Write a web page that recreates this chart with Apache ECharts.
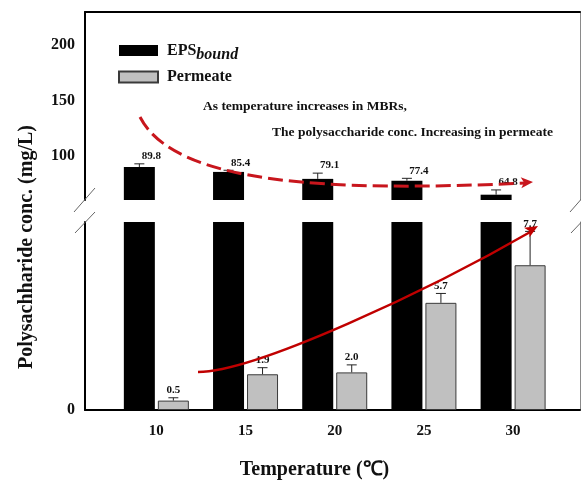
<!DOCTYPE html>
<html>
<head>
<meta charset="utf-8">
<script src="https://cdn.jsdelivr.net/npm/echarts@6/dist/echarts.min.js"></script>
<style>html,body{margin:0;padding:0;background:#fff;}#c{width:581px;height:480px;}</style>
</head>
<body>
<div id="c"></div>
<script>
// ---- data ----
const temps = [10, 15, 20, 25, 30];
const epsBound = [89.8, 85.4, 79.1, 77.4, 64.8];
const epsErr = [2.9, 1.5, 5.2, 2.2, 4.3];
const permeate = [0.5, 1.9, 2.0, 5.7, 7.7];
const permErr = [0.15, 0.35, 0.4, 0.5, 1.8];
const topTicks = [100, 150, 200];
const bottomTicks = [0];
const xTicks = [10, 15, 20, 25, 30];

// ---- styles ----
const FONT = 'Liberation Serif';
const BAR_W = 31, BAR_GAP = 3;
const HALF = (BAR_W + BAR_GAP) / 2;

const chart = echarts.init(document.getElementById('c'), null, {renderer: 'canvas'});

function pairs(vals) { return temps.map((t, i) => [t, vals[i]]); }
function triples(vals, errs) { return temps.map((t, i) => [t, vals[i], errs[i]]); }

function errRenderer(side, dx) {
  return function (params, api) {
    const x = api.value(0), v = api.value(1), e = api.value(2);
    const b = api.coord([x, v]);
    const t = api.coord([x, v + e]);
    const cx = b[0] + side * HALF;
    const st = {stroke: '#222', lineWidth: 1};
    return {
      type: 'group',
      children: [
        {type: 'line', shape: {x1: cx, y1: b[1], x2: cx, y2: t[1]}, style: st},
        {type: 'line', shape: {x1: cx - 5, y1: t[1], x2: cx + 5, y2: t[1]}, style: st},
        {type: 'text', x: cx + dx, y: t[1] - 2,
          style: {text: v.toFixed(1), align: 'center', verticalAlign: 'bottom',
            textAlign: 'center', textVerticalAlign: 'bottom',
            font: 'bold 11px "' + FONT + '"', fill: '#111'}}
      ]
    };
  };
}

const blackStyle = {color: '#000'};
const grayStyle = {color: '#c0c0c0', borderColor: '#3a3a3a', borderWidth: 1};

const xBase = {
  type: 'value', min: 6, max: 33.75, interval: 1,
  splitLine: {show: false}, axisTick: {show: false}
};

function arrowHead(tx, ty, ang, L, W, N, color) {
  const dx = Math.cos(ang), dy = Math.sin(ang);
  const px = -dy, py = dx;
  return {
    type: 'polygon', z: 101,
    shape: {points: [
      [tx, ty],
      [tx - L * dx + W * px, ty - L * dy + W * py],
      [tx - (L - N) * dx, ty - (L - N) * dy],
      [tx - L * dx - W * px, ty - L * dy - W * py]
    ]},
    style: {fill: color}
  };
}

const breakStyle = {stroke: '#666', lineWidth: 1};

chart.setOption({
  animation: false,
  grid: [
    {left: 85, right: 1, top: 12, height: 188, containLabel: false, outerBoundsMode: 'none'},
    {left: 85, right: 1, top: 222, height: 188, containLabel: false, outerBoundsMode: 'none'}
  ],
  xAxis: [
    Object.assign({}, xBase, {gridIndex: 0, position: 'top',
      axisLine: {show: true, onZero: false, lineStyle: {color: '#000', width: 2}},
      axisLabel: {show: false}}),
    Object.assign({}, xBase, {gridIndex: 1, position: 'bottom',
      axisLine: {show: true, onZero: false, lineStyle: {color: '#000', width: 2}},
      axisLabel: {show: true, margin: 14, fontFamily: FONT, fontWeight: 'bold', fontSize: 15, color: '#111',
        formatter: v => xTicks.includes(v) ? String(v) : ''},
      name: 'Temperature (℃)', nameLocation: 'middle', nameGap: 50,
      nameTextStyle: {fontFamily: FONT, fontWeight: 'bold', fontSize: 20, color: '#111', padding: [0, 36, 0, 0]}})
  ],
  yAxis: [
    {type: 'value', gridIndex: 0, position: 'left', min: 60, max: 230, interval: 10,
      splitLine: {show: false}, axisTick: {show: false},
      axisLine: {show: true, onZero: false, lineStyle: {color: '#000', width: 2}},
      axisLabel: {margin: 10, fontFamily: FONT, fontWeight: 'bold', fontSize: 16, color: '#111',
        formatter: v => topTicks.includes(v) ? String(v) : ''}},
    {type: 'value', gridIndex: 0, position: 'right', min: 60, max: 230,
      splitLine: {show: false}, axisTick: {show: false}, axisLabel: {show: false},
      axisLine: {show: true, onZero: false, lineStyle: {color: '#8a8a8a', width: 1}}},
    {type: 'value', gridIndex: 1, position: 'left', min: 0, max: 10, interval: 1,
      splitLine: {show: false}, axisTick: {show: false},
      axisLine: {show: true, onZero: false, lineStyle: {color: '#000', width: 2}},
      axisLabel: {margin: 10, fontFamily: FONT, fontWeight: 'bold', fontSize: 16, color: '#111',
        formatter: v => bottomTicks.includes(v) ? String(v) : ''}},
    {type: 'value', gridIndex: 1, position: 'right', min: 0, max: 10,
      splitLine: {show: false}, axisTick: {show: false}, axisLabel: {show: false},
      axisLine: {show: true, onZero: false, lineStyle: {color: '#8a8a8a', width: 1}}}
  ],
  legend: {
    orient: 'vertical', left: 113, top: 33, itemWidth: 39, itemHeight: 11, itemGap: 6,
    icon: 'rect',
    data: ['EPSbound', 'Permeate'],
    formatter: n => n === 'EPSbound' ? '{a|EPS}{b|bound}' : '{a|Permeate}',
    textStyle: {
      padding: [0, 0, 0, 4],
      rich: {
        a: {fontFamily: FONT, fontWeight: 'bold', fontSize: 16, color: '#111', lineHeight: 20, verticalAlign: 'middle'},
        b: {fontFamily: FONT, fontWeight: 'bold', fontStyle: 'italic', fontSize: 16, color: '#111', lineHeight: 20,
          padding: [9, 0, 0, 0], verticalAlign: 'middle'}
      }
    }
  },
  series: [
    {type: 'bar', name: 'EPSbound', xAxisIndex: 0, yAxisIndex: 0, data: pairs(epsBound),
      barWidth: BAR_W, barGap: (BAR_GAP / BAR_W * 100) + '%', itemStyle: blackStyle, clip: true},
    {type: 'bar', name: 'Permeate', xAxisIndex: 0, yAxisIndex: 0, data: pairs(permeate),
      barWidth: BAR_W, barGap: (BAR_GAP / BAR_W * 100) + '%', itemStyle: grayStyle, clip: true},
    {type: 'bar', name: 'EPSbound', xAxisIndex: 1, yAxisIndex: 2, data: pairs(epsBound),
      barWidth: BAR_W, barGap: (BAR_GAP / BAR_W * 100) + '%', itemStyle: blackStyle, clip: true},
    {type: 'bar', name: 'Permeate', xAxisIndex: 1, yAxisIndex: 2, data: pairs(permeate),
      barWidth: BAR_W, barGap: (BAR_GAP / BAR_W * 100) + '%', itemStyle: grayStyle, clip: true},
    {type: 'custom', xAxisIndex: 0, yAxisIndex: 0, data: triples(epsBound, epsErr),
      renderItem: errRenderer(-1, 12), z: 5},
    {type: 'custom', xAxisIndex: 1, yAxisIndex: 2, data: triples(permeate, permErr),
      renderItem: errRenderer(1, 0), z: 5}
  ],
  graphic: [
    {type: 'text', x: 27, y: 247, rotation: Math.PI / 2, z: 100,
      style: {text: 'Polysachharide conc. (mg/L)', font: 'bold 20px "' + FONT + '"', fill: '#111',
        align: 'center', verticalAlign: 'middle', textAlign: 'center', textVerticalAlign: 'middle'}},
    {type: 'text', x: 203, y: 107, z: 100,
      style: {text: 'As temperature increases in MBRs,', font: 'bold 13.5px "' + FONT + '"', fill: '#111',
        align: 'left', verticalAlign: 'middle', textAlign: 'left', textVerticalAlign: 'middle'}},
    {type: 'text', x: 272, y: 133, z: 100,
      style: {text: 'The polysaccharide conc. Increasing in permeate', font: 'bold 13.5px "' + FONT + '"', fill: '#111',
        align: 'left', verticalAlign: 'middle', textAlign: 'left', textVerticalAlign: 'middle'}},
    // dashed arrow
    {type: 'bezierCurve', z: 100,
      shape: {x1: 140, y1: 117, cpx1: 175, cpy1: 185, cpx2: 330, cpy2: 192, x2: 526, y2: 183},
      style: {stroke: '#c8161d', lineWidth: 3, fill: null, lineDash: [15, 6]}},
    arrowHead(533, 182, Math.atan2(-9, 150), 12, 5.5, 3, '#c8161d'),
    // solid arrow
    {type: 'bezierCurve', z: 100,
      shape: {x1: 198, y1: 372, cpx1: 255, cpy1: 372, cpx2: 430, cpy2: 290, x2: 532, y2: 231},
      style: {stroke: '#c00000', lineWidth: 2.5, fill: null}},
    arrowHead(538, 226, Math.atan2(-59, 102), 13, 5.5, 3, '#c00000'),
    // break marks
    {type: 'line', z: 100, shape: {x1: 74, y1: 212, x2: 95, y2: 188}, style: breakStyle},
    {type: 'line', z: 100, shape: {x1: 75, y1: 233, x2: 95, y2: 212}, style: breakStyle},
    {type: 'line', z: 100, shape: {x1: 570, y1: 212, x2: 591, y2: 188}, style: breakStyle},
    {type: 'line', z: 100, shape: {x1: 571, y1: 233, x2: 591, y2: 212}, style: breakStyle}
  ]
});
</script>
</body>
</html>
